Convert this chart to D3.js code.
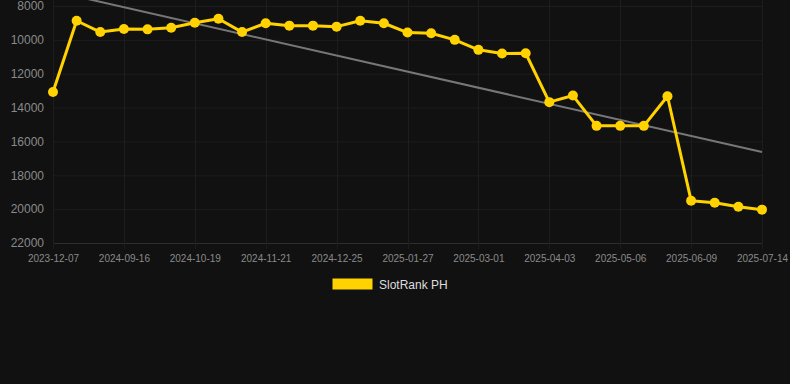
<!DOCTYPE html>
<html>
<head>
<meta charset="utf-8">
<style>
body, html {
	margin: 0;
	padding: 0;
	background: #111111;
}
svg {
	display: block;
	font-family: "Liberation Sans", Arial, sans-serif;
}
</style>
</head>
<body>
<div id="chart"></div>
<script src="https://cdn.jsdelivr.net/npm/d3@7"></script>
<script>

// one label per point; every third one is shown on the axis
var dates = [
	"2023-12-07", "2024-08-25", "2024-09-05",
	"2024-09-16", "2024-09-27", "2024-10-08",
	"2024-10-19", "2024-10-30", "2024-11-10",
	"2024-11-21", "2024-12-02", "2024-12-14",
	"2024-12-25", "2025-01-05", "2025-01-16",
	"2025-01-27", "2025-02-07", "2025-02-18",
	"2025-03-01", "2025-03-12", "2025-03-23",
	"2025-04-03", "2025-04-14", "2025-04-25",
	"2025-05-06", "2025-05-17", "2025-05-28",
	"2025-06-09", "2025-06-20", "2025-07-02",
	"2025-07-14"
];

var ranks = [
	13080, 8870, 9540,
	9360, 9380, 9290,
	8990, 8750, 9540,
	9020, 9160, 9160,
	9220, 8870, 9020,
	9570, 9610, 10000,
	10590, 10810, 10790,
	13680, 13290, 15080,
	15080, 15080, 13330,
	19500, 19620, 19860,
	20030
];

// trend line, first and last point
var trend = [7120, 16630];

var yTicks = [8000, 10000, 12000, 14000, 16000, 18000, 20000, 22000];

const WIDTH = 790;
const HEIGHT = 384;
const LINE_COLOR = '#FFD200';
const GRID_COLOR = '#1d1d1d';
const TEXT_COLOR = '#8a8a8a';

var svg = d3.select("#chart").append("svg")
	.attr("width", WIDTH)
	.attr("height", HEIGHT);

var x = d3.scalePoint()
	.domain(dates)
	.range([53, 762]);

var y = d3.scaleLinear()
	.domain([8000, 22000])
	.range([6, 243]);

var labelDates = dates.filter((d, i) => i % 3 === 0);

// grid
var grid = svg.append("g").attr("class", "grid");

grid.selectAll(".hgrid")
	.data(yTicks)
	.enter().append("line")
		.attr("x1", 53)
		.attr("x2", 762)
		.attr("y1", (d) => y(d) + 0.5)
		.attr("y2", (d) => y(d) + 0.5)
		.attr("stroke", (d) => d === 22000 ? '#2e2e2e' : GRID_COLOR)
		.attr("stroke-width", 1);

grid.selectAll(".vgrid")
	.data(labelDates)
	.enter().append("line")
		.attr("x1", (d) => Math.round(x(d)) + 0.5)
		.attr("x2", (d) => Math.round(x(d)) + 0.5)
		.attr("y1", 0)
		.attr("y2", 249)
		.attr("stroke", GRID_COLOR)
		.attr("stroke-width", 1);

// axes
var yAxis = svg.append("g")
	.attr("transform", "translate(44,0)")
	.call(d3.axisLeft(y).tickValues(yTicks).tickSize(0).tickPadding(0).tickFormat(d3.format("d")));
yAxis.select(".domain").remove();
yAxis.selectAll("text")
	.attr("fill", TEXT_COLOR)
	.attr("font-size", "12px")
	.attr("font-family", "Liberation Sans, Arial, sans-serif");

var xAxis = svg.append("g")
	.attr("transform", "translate(0,243)")
	.call(d3.axisBottom(x).tickValues(labelDates).tickSize(0).tickPadding(12));
xAxis.select(".domain").remove();
xAxis.selectAll("text")
	.attr("fill", TEXT_COLOR)
	.attr("font-size", "10px")
	.attr("font-family", "Liberation Sans, Arial, sans-serif");

// trend line
svg.append("line")
	.attr("x1", x(dates[0]))
	.attr("y1", y(trend[0]))
	.attr("x2", x(dates[dates.length - 1]))
	.attr("y2", y(trend[1]))
	.attr("stroke", '#777777')
	.attr("stroke-width", 2);

// series
var line = d3.line()
	.x((d, i) => x(dates[i]))
	.y((d) => y(d));

svg.append("path")
	.datum(ranks)
	.attr("d", line)
	.attr("fill", "none")
	.attr("stroke", LINE_COLOR)
	.attr("stroke-width", 3)
	.attr("stroke-linejoin", "round");

svg.selectAll(".point")
	.data(ranks)
	.enter().append("circle")
		.attr("class", "point")
		.attr("cx", (d, i) => x(dates[i]))
		.attr("cy", (d) => y(d))
		.attr("r", 5)
		.attr("fill", LINE_COLOR);

// legend
var legend = svg.append("g").attr("class", "legend");
legend.append("rect")
	.attr("x", 332.5)
	.attr("y", 278.5)
	.attr("width", 40)
	.attr("height", 11)
	.attr("fill", LINE_COLOR);
legend.append("text")
	.attr("x", 379)
	.attr("y", 288.5)
	.attr("fill", '#dddddd')
	.attr("font-size", "12px")
	.text("SlotRank PH");

</script>
</body>
</html>
